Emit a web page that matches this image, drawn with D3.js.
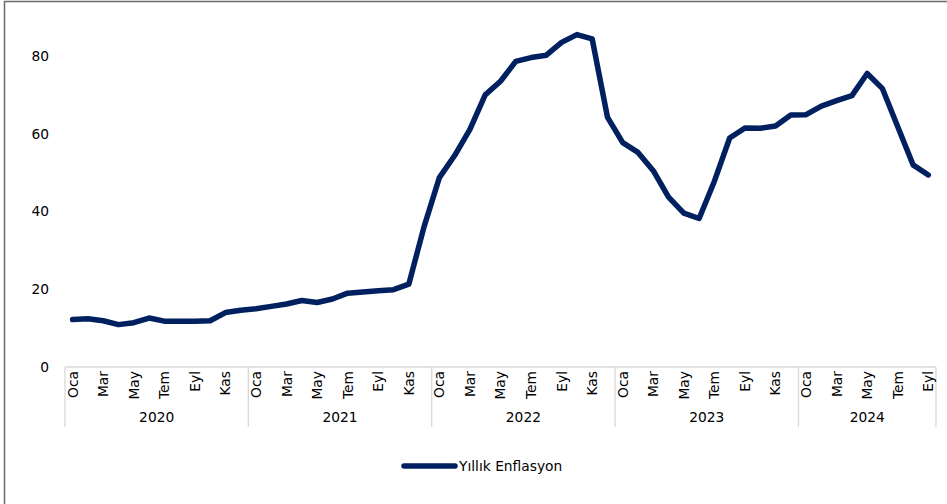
<!DOCTYPE html>
<html>
<head>
<meta charset="utf-8">
<script src="https://cdn.jsdelivr.net/npm/d3@7"></script>
<style>
  body { margin: 0; background: #fff; }
  svg { display: block; font-family: "DejaVu Sans", sans-serif; }
</style>
</head>
<body>
<svg id="chart" width="947" height="504"></svg>
<script>
// month abbreviations (Turkish) and years shown on the category axis
const monthNames = ['Oca', 'Şub', 'Mar', 'Nis', 'May', 'Haz', 'Tem', 'Ağu', 'Eyl', 'Eki', 'Kas', 'Ara'];
const years = ['2020', '2021', '2022', '2023', '2024'];

// annual CPI inflation (%)
const infl2020 = [12.2, 12.4, 11.9, 10.9, 11.4, 12.6, 11.8, 11.8, 11.8, 11.9, 14.0, 14.6];
const infl2021 = [15.0, 15.6, 16.2, 17.1, 16.6, 17.5, 19.0, 19.3, 19.6, 19.9, 21.3, 36.1];
const infl2022 = [48.7, 54.4, 61.1, 70.0, 73.5, 78.6, 79.6, 80.2, 83.5, 85.5, 84.4, 64.3];
const infl2023 = [57.7, 55.2, 50.5, 43.7, 39.6, 38.2, 47.8, 58.9, 61.5, 61.4, 62.0, 64.8];
const infl2024 = [64.9, 67.1, 68.5, 69.8, 75.5, 71.6, 61.8, 52.0, 49.4];

const yTicks = [0, 20, 40, 60, 80];
const seriesName = 'Yıllık Enflasyon';
const lineColor = '#002060';
const fontSize = 13.8;

const series = [infl2020, infl2021, infl2022, infl2023, infl2024];
const data = [];
series.forEach((vals, yi) => {
  vals.forEach((v, mi) => data.push({ i: data.length, year: years[yi], month: mi, value: v }));
});

const svg = d3.select('#chart');

// outer frame (only top and left edges show)
svg.append('path')
  .attr('d', 'M4.5,504 L4.5,1.5 L947,1.5')
  .attr('fill', 'none')
  .attr('stroke', '#6a6a6a')
  .attr('stroke-width', 1.5);

const plotLeft = 65;
const step = 15.28;
const xScale = d3.scaleBand()
  .domain(data.map(d => d.i))
  .range([plotLeft, plotLeft + step * data.length])
  .padding(0);
const xc = i => xScale(i) + xScale.bandwidth() / 2;

const yScale = d3.scaleLinear()
  .domain([0, 80])
  .range([367, 56]);

// y axis labels
const yAxis = d3.axisLeft(yScale)
  .tickValues(yTicks)
  .tickSize(0)
  .tickPadding(0);
const gy = svg.append('g')
  .attr('transform', 'translate(49,0)')
  .call(yAxis);
gy.select('.domain').remove();
gy.selectAll('text')
  .attr('font-family', '"DejaVu Sans", sans-serif')
  .attr('font-size', fontSize)
  .attr('fill', '#000');

// category axis line
const axisY = yScale(0);
const axisRight = plotLeft + step * data.length;
svg.append('line')
  .attr('x1', plotLeft).attr('x2', axisRight)
  .attr('y1', axisY).attr('y2', axisY)
  .attr('stroke', '#d9d9d9').attr('stroke-width', 1.3);

// year separators
let start = 0;
const bounds = [0];
series.forEach(vals => { start += vals.length; bounds.push(start); });
bounds.forEach(b => {
  const x = plotLeft + step * b;
  svg.append('line')
    .attr('x1', x).attr('x2', x)
    .attr('y1', axisY).attr('y2', 427)
    .attr('stroke', '#d9d9d9').attr('stroke-width', 1.3);
});

// month labels, every other month, rotated
svg.append('g')
  .selectAll('text')
  .data(data.filter(d => d.month % 2 === 0))
  .join('text')
  .attr('transform', d => `translate(${xc(d.i)},${axisY + 4}) rotate(-90)`)
  .attr('text-anchor', 'end')
  .attr('dy', '0.36em')
  .attr('font-size', fontSize)
  .attr('fill', '#000')
  .text(d => monthNames[d.month]);

// year labels
svg.append('g')
  .selectAll('text')
  .data(years)
  .join('text')
  .attr('x', (d, k) => plotLeft + step * (bounds[k] + bounds[k + 1]) / 2)
  .attr('y', 422)
  .attr('text-anchor', 'middle')
  .attr('font-size', fontSize)
  .attr('fill', '#000')
  .text(d => d);

// the line
const line = d3.line()
  .x(d => xc(d.i))
  .y(d => yScale(d.value));
svg.append('path')
  .datum(data)
  .attr('d', line)
  .attr('fill', 'none')
  .attr('stroke', lineColor)
  .attr('stroke-width', 5.5)
  .attr('stroke-linejoin', 'round')
  .attr('stroke-linecap', 'round');

// legend
const legend = svg.append('g').attr('transform', 'translate(0,466)');
legend.append('line')
  .attr('x1', 404).attr('x2', 455)
  .attr('y1', 0).attr('y2', 0)
  .attr('stroke', lineColor)
  .attr('stroke-width', 5.5)
  .attr('stroke-linecap', 'round');
legend.append('text')
  .attr('x', 459)
  .attr('y', 0)
  .attr('dy', '0.36em')
  .attr('font-size', fontSize)
  .attr('fill', '#000')
  .text(seriesName);
</script>
</body>
</html>
